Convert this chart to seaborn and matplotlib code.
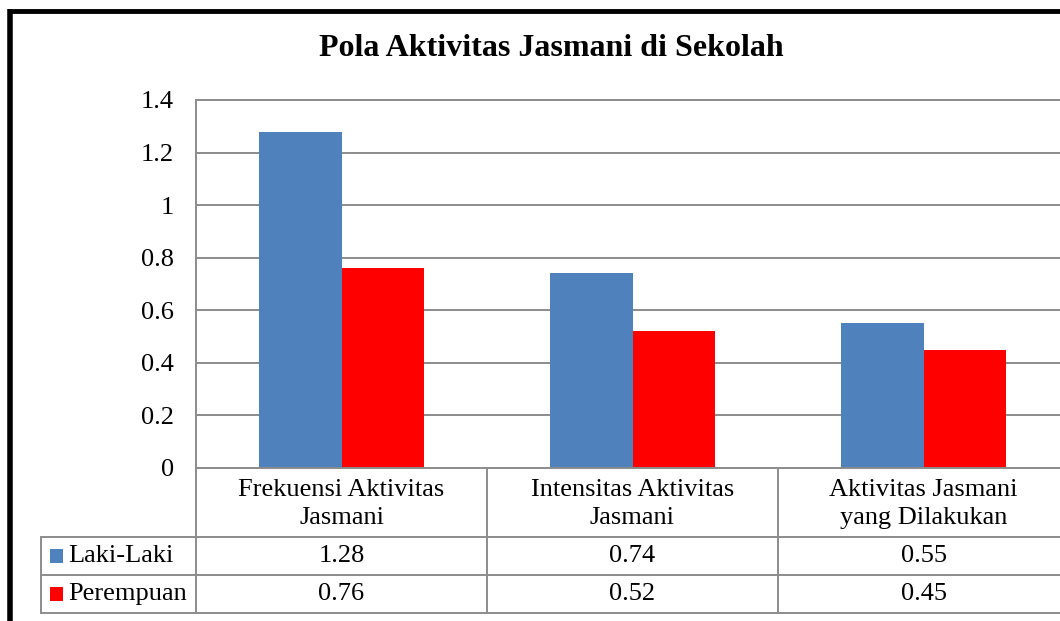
import matplotlib
matplotlib.use("Agg")
import matplotlib.pyplot as plt
import matplotlib.transforms as mtransforms
from matplotlib.lines import Line2D
from matplotlib.patches import Rectangle
import seaborn as sns
import pandas as pd

categories = ["Frekuensi Aktivitas\nJasmani", "Intensitas Aktivitas\nJasmani", "Aktivitas Jasmani\nyang Dilakukan"]
series_names = ["Laki-Laki", "Perempuan"]
laki = [1.28, 0.74, 0.55]
perempuan = [0.76, 0.52, 0.45]
yticks = [0, 0.2, 0.4, 0.6, 0.8, 1, 1.2, 1.4]
ytick_labels = ["0", "0.2", "0.4", "0.6", "0.8", "1", "1.2", "1.4"]
colors = ["#4F81BD", "#FF0000"]
title = "Pola Aktivitas Jasmani di Sekolah"

sns.set_style("white")
plt.rcParams["font.family"] = ["Liberation Serif", "DejaVu Serif"]
plt.rcParams["text.color"] = "black"
plt.rcParams["ytick.color"] = "black"
plt.rcParams["ytick.labelcolor"] = "black"

W, H = 1060, 621
fig = plt.figure(figsize=(W / 100, H / 100), dpi=100)

def fx(px):
    return px / W

def fy(py):
    return 1 - py / H

ax = fig.add_axes([fx(196), fy(468), fx(1069) - fx(196), fy(100) - fy(468)])

df = pd.DataFrame({
    "cat": categories * 2,
    "series": [series_names[0]] * 3 + [series_names[1]] * 3,
    "val": laki + perempuan,
})
sns.barplot(data=df, x="cat", y="val", hue="series", palette=colors,
            width=0.57, ax=ax, legend=False, saturation=1, edgecolor="none")

ax.set_ylim(0, 1.4)
ax.set_xlim(-0.5, 2.5)
ax.set_yticks(yticks)
ax.set_yticklabels(ytick_labels, fontsize=19, color="black")
ax.tick_params(axis="y", length=0, pad=16)
ax.set_xticks([])
ax.set_xlabel("")
ax.set_ylabel("")
ax.yaxis.grid(True, color="#8C8C8C", linewidth=1.4)
ax.set_axisbelow(True)
for s in ["right", "bottom"]:
    ax.spines[s].set_visible(False)
for s in ["left", "top"]:
    ax.spines[s].set_color("#8C8C8C")
    ax.spines[s].set_linewidth(1.4)

fig.text(fx(551), fy(48), title, ha="center", va="center",
         fontsize=23, fontweight="bold", color="black")

# outer border
gc = "#8C8C8C"
fig.add_artist(Line2D([fx(9.5), fx(9.5)], [fy(9), 0], color="black", linewidth=4,
                      solid_capstyle="butt", transform=fig.transFigure))
fig.add_artist(Line2D([fx(7.5), 1], [fy(10.5), fy(10.5)], color="black", linewidth=3.5,
                      solid_capstyle="butt", transform=fig.transFigure))

# data table
blend = mtransforms.blended_transform_factory(ax.transData, fig.transFigure)
row_y = [468, 537, 575, 613]
for i, y in enumerate(row_y):
    x0 = fx(196) if i == 0 else fx(41)
    fig.add_artist(Line2D([x0, 1], [fy(y), fy(y)], color=gc, linewidth=1.4, transform=fig.transFigure))
fig.add_artist(Line2D([fx(41), fx(41)], [fy(537), fy(613)], color=gc, linewidth=1.4, transform=fig.transFigure))
fig.add_artist(Line2D([fx(196), fx(196)], [fy(468), fy(613)], color=gc, linewidth=1.4, transform=fig.transFigure))
for b in [0.5, 1.5]:
    fig.add_artist(Line2D([b, b], [fy(468), fy(613)], color=gc, linewidth=1.4, transform=blend, clip_on=False))

for i, cat in enumerate(categories):
    fig.text(i, fy(504), cat, transform=blend, ha="center", va="center", fontsize=19, linespacing=1.3)
    fig.text(i, fy(556), f"{laki[i]:.2f}", transform=blend, ha="center", va="center", fontsize=19)
    fig.text(i, fy(594), f"{perempuan[i]:.2f}", transform=blend, ha="center", va="center", fontsize=19)

for name, color, yc in zip(series_names, colors, [556, 594]):
    fig.add_artist(Rectangle((fx(50), fy(yc + 7)), fx(63) - fx(50), fy(yc - 7) - fy(yc + 7),
                             facecolor=color, edgecolor="none", transform=fig.transFigure))
    fig.text(fx(68), fy(yc), name, ha="left", va="center", fontsize=19)

fig.savefig("out.png", dpi=100, facecolor="white")
